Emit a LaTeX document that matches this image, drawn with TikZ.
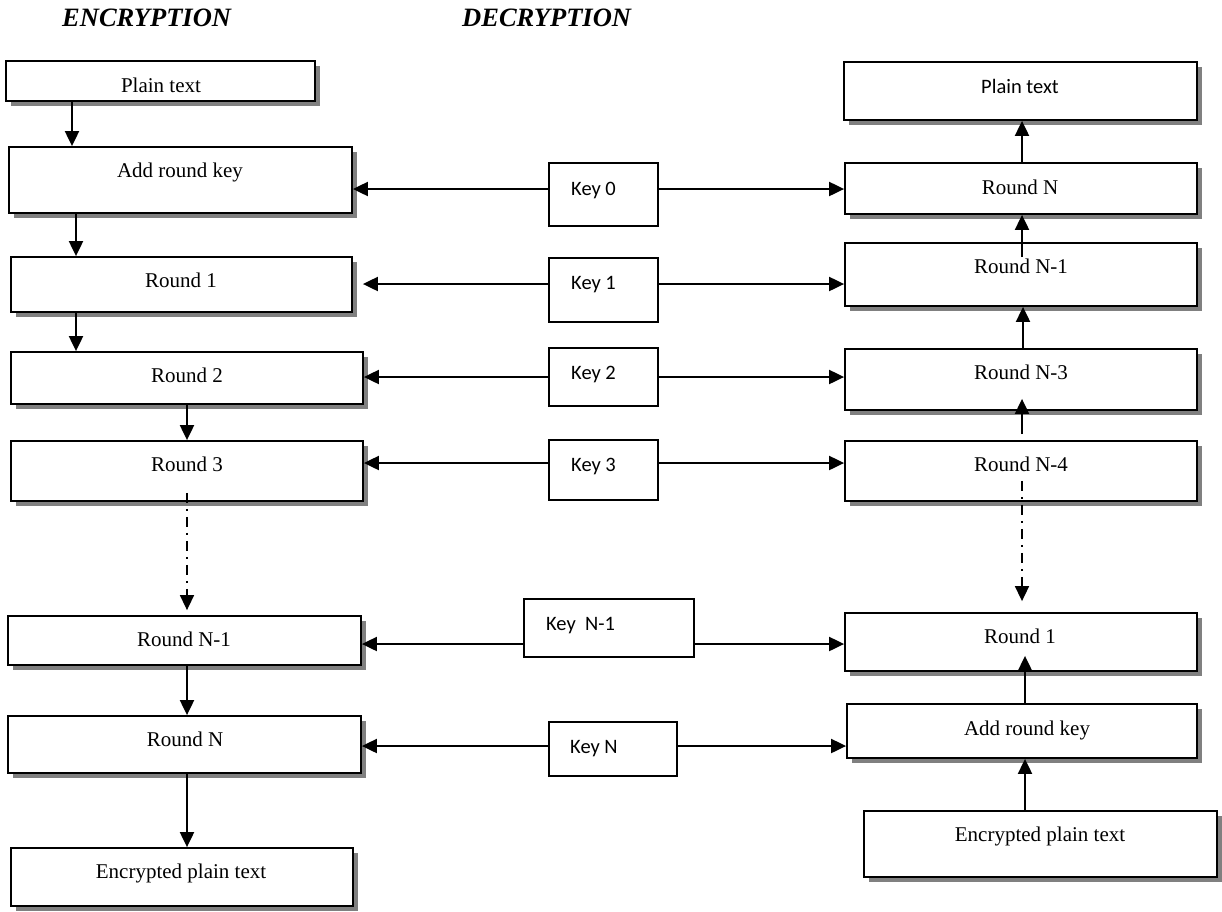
\documentclass[tikz,border=0pt]{standalone}
\usepackage{fontspec}
\setmainfont{Liberation Serif}
\newfontfamily\keyfont{Carlito}
\usetikzlibrary{arrows.meta,shadows}
\tikzset{
  shbox/.style={draw, line width=1.8pt, fill=white, rectangle, inner sep=0pt,
    drop shadow={shadow xshift=5pt, shadow yshift=-5pt, fill=black!50, opacity=1}},
  keybox/.style={draw, line width=1.8pt, fill=white, rectangle, inner sep=0pt},
  lbl/.style={font=\fontsize{21}{25}\selectfont, anchor=base, inner sep=0pt},
  klbl/.style={font=\keyfont\fontsize{20.5}{24}\selectfont, anchor=base west, inner sep=0pt},
  klblc/.style={font=\keyfont\fontsize{20.5}{24}\selectfont, anchor=base, inner sep=0pt},
  hdr/.style={font=\bfseries\itshape\fontsize{26.5}{30}\selectfont, anchor=base west, inner sep=0pt},
  arr/.style={line width=2pt, -{Triangle[length=15pt,width=14pt]}},
  ddarr/.style={line width=1.6pt, dash pattern=on 10pt off 6pt on 2pt off 6pt, -{Triangle[length=15pt,width=14pt]}}
}
\newcommand\mybox[5]{\node[#1, minimum width=#4pt, minimum height=#5pt] (#2) at (#3) {};}
\begin{document}
\begin{tikzpicture}[x=1pt,y=-1pt]
\useasboundingbox (0,0) rectangle (1222,911);
% headers
\node[hdr] (henc) at (62,26) {ENCRYPTION};
\node[hdr] (hdec) at (462,26) {DECRYPTION};
% encryption column
\mybox{shbox}{ept}{160.5,81}{309}{40}
\mybox{shbox}{eark}{180.5,180}{343}{66}
\mybox{shbox}{er1}{181.5,284.5}{341}{55}
\mybox{shbox}{er2}{187,378}{352}{52}
\mybox{shbox}{er3}{187,471}{352}{60}
\mybox{shbox}{erNa}{184.5,640.5}{353}{49}
\mybox{shbox}{erN}{184.5,744.5}{353}{57}
\mybox{shbox}{eenc}{182,877}{342}{58}
\node[lbl] (tept) at (161,92) {Plain text};
\node[lbl] (teark) at (180,177) {Add round key};
\node[lbl] (ter1) at (181,287) {Round 1};
\node[lbl] (ter2) at (187,382) {Round 2};
\node[lbl] (ter3) at (187,471) {Round 3};
\node[lbl] (terNa) at (184,646) {Round N-1};
\node[lbl] (terN) at (185,746) {Round N};
\node[lbl] (teenc) at (181,878) {Encrypted plain text};
% keys
\mybox{keybox}{kz}{603.5,194.5}{109}{63}
\mybox{keybox}{ko}{603.5,290}{109}{64}
\mybox{keybox}{kt}{603.5,377}{109}{58}
\mybox{keybox}{kth}{603.5,470}{109}{60}
\mybox{keybox}{kNa}{609,628}{170}{58}
\mybox{keybox}{kN}{613,749}{128}{54}
\node[klbl] (tkz) at (571,195) {Key 0};
\node[klbl] (tko) at (571,289) {Key 1};
\node[klbl] (tkt) at (571,379) {Key 2};
\node[klbl] (tkth) at (571,471) {Key 3};
\node[klbl] (tkNa) at (546,630) {Key~~N-1};
\node[klbl] (tkN) at (570,753) {Key N};
% decryption column
\mybox{shbox}{dpt}{1020.5,91}{353}{58}
\mybox{shbox}{drN}{1021,188.5}{352}{51}
\mybox{shbox}{drNa}{1021,274.5}{352}{63}
\mybox{shbox}{drNc}{1021,379.5}{352}{61}
\mybox{shbox}{drNd}{1021,471}{352}{60}
\mybox{shbox}{dr1}{1021,642}{352}{58}
\mybox{shbox}{dark}{1022,731}{350}{54}
\mybox{shbox}{denc}{1040.5,844}{353}{66}
\node[klblc] (tdpt) at (1020,93) {Plain text};
\node[lbl] (tdrN) at (1020,194) {Round N};
\node[lbl] (tdrNa) at (1021,273) {Round N-1};
\node[lbl] (tdrNc) at (1021,379) {Round N-3};
\node[lbl] (tdrNd) at (1021,471) {Round N-4};
\node[lbl] (tdr1) at (1020,643) {Round 1};
\node[lbl] (tdark) at (1027,735) {Add round key};
\node[lbl] (tdenc) at (1040,841) {Encrypted plain text};
% encryption flow
\draw[arr] ([xshift=-88.5pt]ept.south) -- ([xshift=-88.5pt]ept.south |- eark.north);
\draw[arr] ([xshift=-104.5pt]eark.south) -- ([xshift=-104.5pt]eark.south |- er1.north);
\draw[arr] ([xshift=-105.5pt]er1.south) -- ([xshift=-105.5pt]er1.south |- er2.north);
\draw[arr] (er2.south) -- (er2.south |- er3.north);
\draw[ddarr] ([yshift=9pt]er3.south) -- ([yshift=5pt]er3.south |- erNa.north);
\draw[arr] ([xshift=2.5pt]erNa.south) -- ([xshift=2.5pt]erNa.south |- erN.north);
\draw[arr] ([xshift=2.5pt]erN.south) -- ([xshift=2.5pt]erN.south |- eenc.north);
% decryption flow
\draw[arr] ([xshift=1pt]drN.north) -- ([xshift=1pt]drN.north |- dpt.south);
\draw[arr] ([xshift=1pt,yshift=-15pt]drNa.north) -- ([xshift=1pt]drNa.north |- drN.south);
\draw[arr] ([xshift=2pt]drNc.north) -- ([xshift=2pt]drNc.north |- drNa.south);
\draw[arr] ([xshift=1pt,yshift=6pt]drNd.north) -- ([xshift=1pt,yshift=12pt]drNd.north |- drNc.south);
\draw[ddarr] ([xshift=1pt,yshift=21pt]drNd.south) -- ([xshift=1pt,yshift=11pt]drNd.south |- dr1.north);
\draw[arr] ([xshift=3pt]dark.north) -- ([xshift=3pt,yshift=16pt]dark.north |- dr1.south);
\draw[arr] ([xshift=-15.5pt]denc.north) -- ([xshift=-15.5pt]denc.north |- dark.south);
% key arrows
\draw[arr] ([yshift=5.5pt]kz.west) -- ([yshift=5.5pt]kz.west -| eark.east);
\draw[arr] ([yshift=5.5pt]kz.east) -- ([yshift=5.5pt]kz.east -| drN.west);
\draw[arr] ([yshift=6pt]ko.west) -- ([yshift=6pt,xshift=10pt]ko.west -| er1.east);
\draw[arr] ([yshift=6pt]ko.east) -- ([yshift=6pt]ko.east -| drNa.west);
\draw[arr] (kt.west) -- (kt.west -| er2.east);
\draw[arr] (kt.east) -- (kt.east -| drNc.west);
\draw[arr] ([yshift=7pt]kth.west) -- ([yshift=7pt]kth.west -| er3.east);
\draw[arr] ([yshift=7pt]kth.east) -- ([yshift=7pt]kth.east -| drNd.west);
\draw[arr] ([yshift=-16pt]kNa.west) -- ([yshift=-16pt]kNa.west -| erNa.east);
\draw[arr] ([yshift=-16pt]kNa.east) -- ([yshift=-16pt]kNa.east -| dr1.west);
\draw[arr] ([yshift=3pt]kN.west) -- ([yshift=3pt]kN.west -| erN.east);
\draw[arr] ([yshift=3pt]kN.east) -- ([yshift=3pt]kN.east -| dark.west);
\end{tikzpicture}
\end{document}
